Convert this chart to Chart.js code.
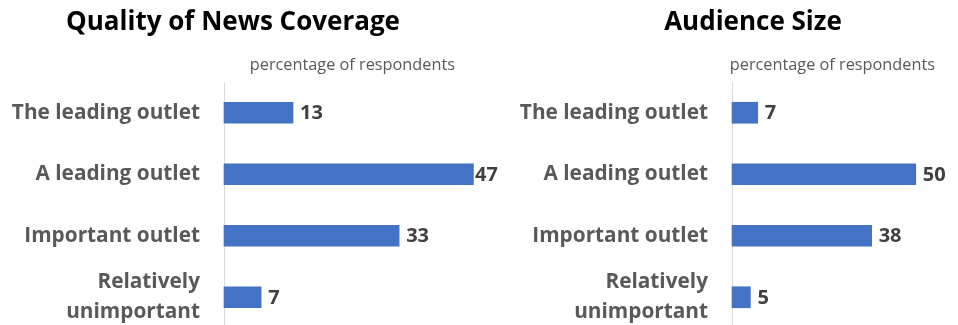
<!DOCTYPE html>
<html>
<head>
<meta charset="utf-8">
<script src="https://cdn.jsdelivr.net/npm/chart.js@4/dist/chart.umd.min.js"></script>
<style>
  html, body { margin: 0; padding: 0; background: #fff; overflow: hidden; width: 958px; height: 325px; }
  .panel { position: absolute; top: 0; }
  #left { left: 0; }
  #right { left: 480px; }
</style>
</head>
<body>
<div class="panel" id="left"><canvas id="qualityChart" width="510" height="328"></canvas></div>
<div class="panel" id="right"><canvas id="audienceChart" width="546" height="328"></canvas></div>
<script>
// data
const categories = ['The leading outlet', 'A leading outlet', 'Important outlet', ['Relatively', 'unimportant']];
const qualityValues = [13, 47, 33, 7];
const audienceValues = [7, 50, 38, 5];
const qualityTitle = 'Quality of News Coverage';
const audienceTitle = 'Audience Size';
const unitLabel = 'percentage of respondents';

const FONT = '"Open Sans", Lato, sans-serif';
const BAR_BLUE = '#4472C4';

// draws the number just past the end of each bar
const valueLabels = {
  id: 'valueLabels',
  afterDatasetsDraw(chart, args, opts) {
    const ctx = chart.ctx;
    const ds = chart.data.datasets[0];
    const limit = opts.limit || Infinity;
    ctx.save();
    ctx.font = 'bold 20px ' + FONT;
    ctx.fillStyle = '#404040';
    ctx.textAlign = 'left';
    ctx.textBaseline = 'middle';
    chart.getDatasetMeta(0).data.forEach((bar, i) => {
      ctx.fillText(String(ds.data[i]), Math.min(bar.x + 7, limit), bar.y + 1);
    });
    ctx.restore();
  }
};

// small grey note above the plot, right aligned
const unitNote = {
  id: 'unitNote',
  afterDraw(chart, args, opts) {
    const ctx = chart.ctx;
    ctx.save();
    ctx.font = '16.3px ' + FONT;
    ctx.fillStyle = '#595959';
    ctx.textAlign = 'right';
    ctx.textBaseline = 'middle';
    ctx.fillText(opts.text, opts.right, opts.y);
    ctx.restore();
  }
};

function makeChart(id, title, values, opts) {
  return new Chart(document.getElementById(id).getContext('2d'), {
    type: 'bar',
    data: {
      labels: categories,
      datasets: [{
        data: values,
        backgroundColor: BAR_BLUE,
        barThickness: 21,
        clip: false
      }]
    },
    options: {
      indexAxis: 'y',
      responsive: false,
      animation: false,
      layout: { padding: { left: 0, right: opts.padRight, top: 0, bottom: 0 } },
      scales: {
        x: { display: false, min: 0, max: opts.xMax },
        y: {
          grid: { display: false, drawTicks: false },
          border: { display: true, color: '#d9d9d9', width: 1 },
          ticks: {
            color: '#595959',
            padding: 24,
            autoSkip: false,
            font: { family: FONT, size: 20.8, weight: 'bold', lineHeight: 1.44 }
          },
          afterFit(scale) {
            scale.width = opts.axisWidth;
            // let the bands use the full height, labels may spill
            scale.paddingTop = 0;
            scale.paddingBottom = 0;
          }
        }
      },
      plugins: {
        legend: { display: false },
        tooltip: { enabled: false },
        title: {
          display: true,
          text: title,
          color: '#000',
          font: { family: FONT, size: 26, weight: 'bold', lineHeight: 1.2 },
          padding: { top: 7, bottom: 43.8 }
        },
        unitNote: { text: unitLabel, right: 455, y: 65 },
        valueLabels: { limit: opts.labelLimit }
      }
    },
    plugins: [valueLabels, unitNote]
  });
}

makeChart('qualityChart', qualityTitle, qualityValues, { padRight: 44, axisWidth: 224, xMax: 45.6, labelLimit: 475 });
makeChart('audienceChart', audienceTitle, audienceValues, { padRight: 0, axisWidth: 252, xMax: 80 });
</script>
</body>
</html>
